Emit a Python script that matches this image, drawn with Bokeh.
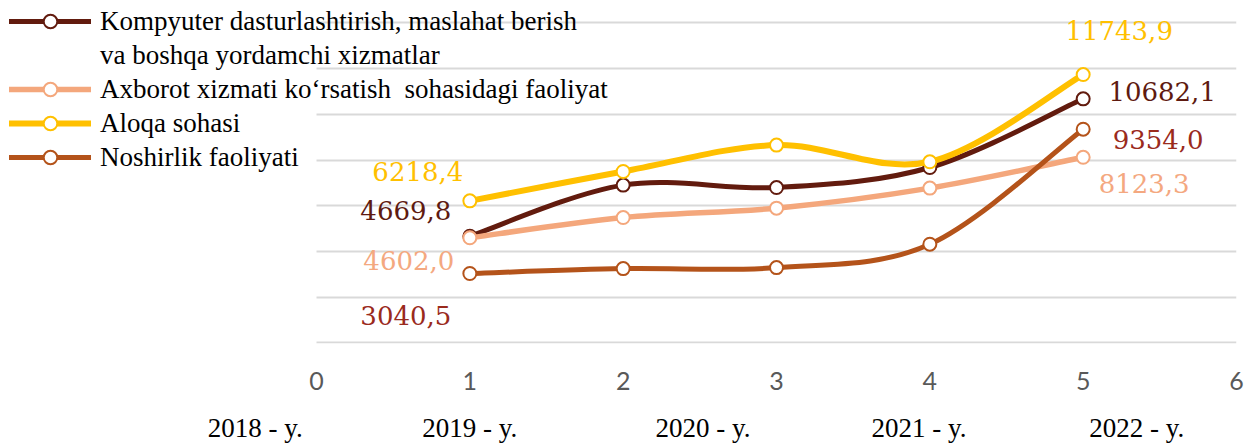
from bokeh.plotting import figure
from bokeh.models import (ColumnDataSource, Range1d, FixedTicker, LabelSet,
                          Legend, LegendItem, LinearAxis)
from bokeh.core.properties import value
from bokeh.embed import file_html
from bokeh.resources import INLINE

# ---------------- data ----------------
x_ticks = [0, 1, 2, 3, 4, 5, 6]
grid_values = [0, 2000, 4000, 6000, 8000, 10000, 12000, 14000]
periods = [1, 2, 3, 4, 5]
year_labels = ["2018 - y.", "2019 - y.", "2020 - y.", "2021 - y.", "2022 - y."]

names = [
    "Kompyuter dasturlashtirish, maslahat berish",
    "Axborot xizmati ko\u2018rsatish  sohasidagi faoliyat",
    "Aloqa sohasi",
    "Noshirlik faoliyati",
]
name_continuation = "va boshqa yordamchi xizmatlar"
kompyuter = [4669.8, 6907.0, 6802.0, 7678.0, 10682.1]
axborot = [4602.0, 5488.0, 5900.0, 6776.0, 8123.3]
aloqa = [6218.4, 7503.0, 8659.0, 7928.0, 11743.9]
noshirlik = [3040.5, 3254.0, 3298.0, 4323.0, 9354.0]

# ---------------- styles / layout ----------------
line_colors = ["#621B0E", "#F4A77C", "#FFC000", "#B4531A"]
label_colors = ["#5E1A10", "#F4A880", "#FFC000", "#9A2A1C"]
line_widths = [5, 5.5, 6, 5]
first_off = [(-64, 16), (-61, -32), (-52, 20), (-64, -52)]
last_off = [(79, -2), (61, -36), (36, 35), (75, -20)]
year_pos = [-0.40, 1.0, 2.52, 3.93, 5.35]

SERIF = "Liberation Serif"
LABEL_FONT = "DejaVu Serif"

p = figure(width=1245, height=446, output_backend="svg", toolbar_location=None,
           x_range=Range1d(-2.061, 6), y_range=Range1d(-22, 14984),
           min_border_left=0, min_border_right=9, min_border_top=0,
           min_border_bottom=103)
p.outline_line_color = None
p.background_fill_color = "white"
p.border_fill_color = "white"
p.yaxis.visible = False
p.xgrid.visible = False
g = p.ygrid[0]
g.ticker = FixedTicker(ticks=grid_values)
g.grid_line_color = "#D9D9D9"
g.grid_line_width = 1.8
g.cross_bounds = (x_ticks[0], x_ticks[-1])

xa = p.xaxis[0]
xa.ticker = FixedTicker(ticks=x_ticks)
xa.axis_line_color = None
xa.major_tick_line_color = None
xa.minor_tick_line_color = None
xa.major_tick_out = 0
xa.major_label_text_font = "Lato"
xa.major_label_text_font_size = "25px"
xa.major_label_text_color = "#595959"
xa.major_label_standoff = 28

ya = LinearAxis(ticker=FixedTicker(ticks=year_pos),
                major_label_overrides={pos: lab for pos, lab in zip(year_pos, year_labels)},
                axis_line_color=None, major_tick_line_color=None,
                minor_tick_line_color=None, major_tick_out=0,
                major_label_text_font=SERIF,
                major_label_text_font_size="27px", major_label_text_color="black",
                major_label_standoff=20)
p.add_layout(ya, "below")


def smooth_segments(xs, ys):
    n = len(xs)
    d = dict(x0=[], y0=[], x1=[], y1=[], cx0=[], cy0=[], cx1=[], cy1=[])
    for i in range(n - 1):
        a = max(i - 1, 0)
        b = min(i + 2, n - 1)
        d["x0"].append(xs[i]); d["y0"].append(ys[i])
        d["x1"].append(xs[i + 1]); d["y1"].append(ys[i + 1])
        d["cx0"].append(xs[i] + (xs[i + 1] - xs[a]) / 6.0)
        d["cy0"].append(ys[i] + (ys[i + 1] - ys[a]) / 6.0)
        d["cx1"].append(xs[i + 1] - (xs[b] - xs[i]) / 6.0)
        d["cy1"].append(ys[i + 1] - (ys[b] - ys[i]) / 6.0)
    return d


def fmt(v):
    return f"{v:.1f}".replace(".", ",")


series = [kompyuter, axborot, aloqa, noshirlik]
items = []
for k, vals in enumerate(series):
    src = ColumnDataSource(smooth_segments(periods, vals))
    r_line = p.bezier(x0="x0", y0="y0", x1="x1", y1="y1", cx0="cx0", cy0="cy0",
                      cx1="cx1", cy1="cy1", source=src, line_color=line_colors[k],
                      line_width=line_widths[k], line_cap="round")
    r_dot = p.scatter(periods, vals, size=13, marker="circle", fill_color="white",
                      line_color=line_colors[k], line_width=2)
    items.append(LegendItem(label=names[k], renderers=[r_line, r_dot]))
    if k == 0:
        # second line of the first legend entry (no glyph)
        r_blank = p.line([], [], line_alpha=0)
        items.append(LegendItem(label=name_continuation, renderers=[r_blank]))

    lsrc = ColumnDataSource(dict(
        x=[periods[0], periods[-1]], y=[vals[0], vals[-1]],
        t=[fmt(vals[0]), fmt(vals[-1])],
        dx=[first_off[k][0], last_off[k][0]],
        dy=[first_off[k][1], last_off[k][1]]))
    p.add_layout(LabelSet(x="x", y="y", text="t", x_offset="dx", y_offset="dy",
                          source=lsrc, text_align="center",
                          text_baseline="alphabetic", text_font=value(LABEL_FONT),
                          text_font_size="26px", text_color=label_colors[k]))

legend = Legend(items=items, location=(9, 169), padding=0, margin=0,
                border_line_color=None, background_fill_alpha=0,
                glyph_width=82, glyph_height=34, label_standoff=9,
                label_text_font=SERIF, label_text_font_size="27px",
                label_text_color="black", spacing=0, label_height=30)
p.add_layout(legend, "center")

open("out.html", "w").write(file_html(p, INLINE))
